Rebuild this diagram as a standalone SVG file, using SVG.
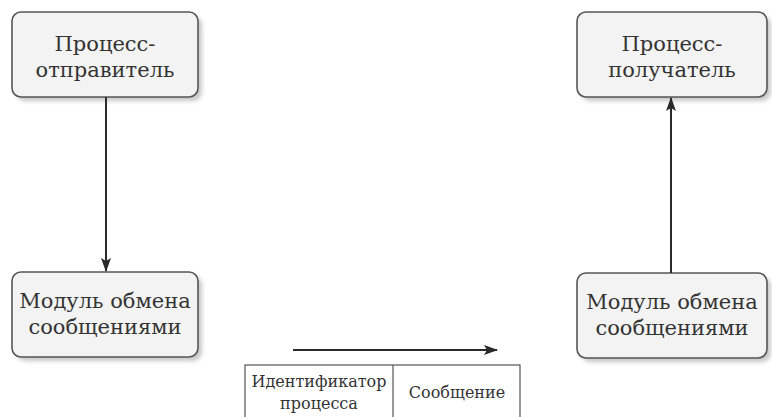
<svg xmlns="http://www.w3.org/2000/svg" width="772" height="417" viewBox="0 0 772 417">
<defs>
<marker id="ah" markerWidth="14" markerHeight="10" refX="13" refY="5" orient="auto" markerUnits="userSpaceOnUse">
<path d="M0,0 L14,5 L0,10 L3,5 Z" fill="#2a2a2a"/>
</marker>
<filter id="sh" x="-10%" y="-10%" width="130%" height="140%">
<feGaussianBlur stdDeviation="2"/>
</filter>
</defs>
<style>
.box{fill:#f3f3f3;stroke:#555;stroke-width:1.6}
.shadow{fill:#c8c8c8;filter:url(#sh)}
.t{font-family:'DejaVu Serif',serif;font-size:21px;fill:#333;text-anchor:middle}
.s{font-family:'DejaVu Serif',serif;font-size:16px;fill:#333;text-anchor:middle}
.c{stroke:#2a2a2a;stroke-width:2;fill:none}
.tbl{fill:#fff;stroke:#555;stroke-width:1.2}
</style>
<rect width="772" height="417" fill="#fff"/>
<g id="sender">
<rect class="shadow" x="16" y="16" width="186" height="85" rx="9"/>
<rect class="box" x="12" y="12" width="186" height="85" rx="9"/>
<text class="t" x="105" y="51">Процесс-</text>
<text class="t" x="105" y="77">отправитель</text>
</g>
<g id="module-left">
<rect class="shadow" x="16" y="276" width="186" height="85" rx="9"/>
<rect class="box" x="12" y="272" width="186" height="85" rx="9"/>
<text class="t" x="105" y="308">Модуль обмена</text>
<text class="t" x="105" y="334">сообщениями</text>
</g>
<g id="receiver">
<rect class="shadow" x="581" y="16" width="190" height="85" rx="9"/>
<rect class="box" x="577" y="12" width="190" height="85" rx="9"/>
<text class="t" x="672" y="51">Процесс-</text>
<text class="t" x="672" y="77">получатель</text>
</g>
<g id="module-right">
<rect class="shadow" x="581" y="277" width="190" height="85" rx="9"/>
<rect class="box" x="577" y="273" width="190" height="85" rx="9"/>
<text class="t" x="672" y="309">Модуль обмена</text>
<text class="t" x="672" y="335">сообщениями</text>
</g>
<g id="message">
<rect class="tbl" x="245" y="365" width="275" height="60"/>
<line x1="393" y1="365" x2="393" y2="417" stroke="#555" stroke-width="1.2"/>
<text class="s" x="319" y="387">Идентификатор</text>
<text class="s" x="319" y="409">процесса</text>
<text class="s" x="457" y="398">Сообщение</text>
</g>
<g id="connectors">
<line class="c" x1="106" y1="97" x2="106" y2="271" marker-end="url(#ah)"/>
<line class="c" x1="671" y1="273" x2="671" y2="98" marker-end="url(#ah)"/>
<line class="c" x1="293" y1="350" x2="497" y2="350" marker-end="url(#ah)"/>
</g>
</svg>
